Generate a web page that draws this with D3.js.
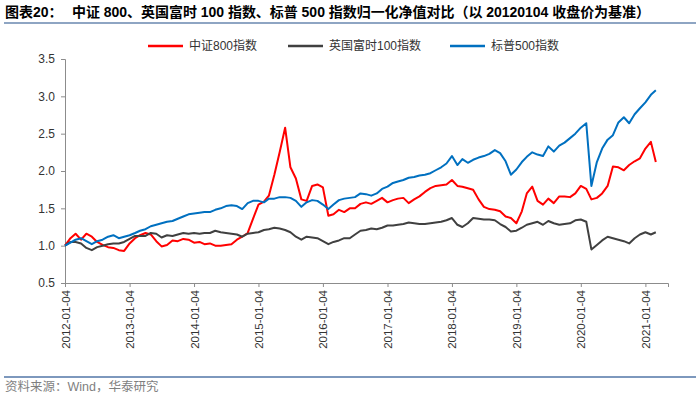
<!DOCTYPE html>
<html>
<head>
<meta charset="utf-8">
<script src="https://cdn.jsdelivr.net/npm/d3@7"></script>
<style>
  body { margin: 0; background: #fff; }
  svg text { font-family: "Liberation Sans", "Noto Sans CJK SC", sans-serif; }
</style>
</head>
<body>
<div id="chart"></div>
<script>
// monthly samples, first one is 2012-01-04 (=1.0)
var startDate = new Date(2012, 0, 4);

var csi800 = [1.00,1.10,1.16,1.08,1.16,1.12,1.05,1.01,0.98,0.97,0.94,0.93,
  1.03,1.10,1.14,1.17,1.15,1.06,0.99,1.01,1.07,1.06,1.09,1.08,
  1.04,1.05,1.02,1.03,1.00,1.00,1.01,1.02,1.08,1.12,1.17,1.36,
  1.55,1.59,1.67,1.95,2.25,2.58,2.05,1.90,1.62,1.60,1.80,1.82,
  1.78,1.40,1.42,1.48,1.45,1.50,1.50,1.56,1.58,1.56,1.60,1.64,
  1.58,1.61,1.63,1.64,1.57,1.62,1.66,1.72,1.77,1.80,1.81,1.82,
  1.88,1.80,1.79,1.77,1.75,1.62,1.52,1.49,1.48,1.46,1.39,1.37,
  1.30,1.46,1.70,1.79,1.60,1.55,1.63,1.57,1.66,1.66,1.65,1.70,
  1.80,1.76,1.62,1.64,1.70,1.80,2.06,2.05,2.01,2.08,2.13,2.17,
  2.30,2.39,2.12];

var ftse100 = [1.00,1.05,1.05,1.03,0.97,0.94,0.98,1.00,1.02,1.03,1.03,1.05,
  1.09,1.13,1.13,1.13,1.17,1.16,1.11,1.14,1.13,1.15,1.17,1.16,
  1.17,1.16,1.17,1.17,1.20,1.18,1.17,1.16,1.15,1.12,1.16,1.17,
  1.18,1.21,1.22,1.24,1.23,1.21,1.18,1.12,1.08,1.12,1.11,1.10,
  1.06,1.02,1.05,1.07,1.10,1.10,1.15,1.20,1.21,1.23,1.22,1.24,
  1.27,1.27,1.28,1.29,1.31,1.30,1.29,1.29,1.30,1.31,1.32,1.34,
  1.37,1.28,1.25,1.30,1.37,1.36,1.35,1.35,1.34,1.29,1.25,1.19,
  1.20,1.24,1.28,1.30,1.32,1.28,1.33,1.30,1.28,1.29,1.30,1.34,
  1.35,1.32,0.95,1.01,1.07,1.12,1.10,1.08,1.06,1.03,1.10,1.15,
  1.18,1.15,1.18];

var sp500 = [1.00,1.04,1.08,1.10,1.06,1.02,1.06,1.08,1.12,1.14,1.10,1.12,
  1.14,1.17,1.20,1.22,1.26,1.28,1.30,1.32,1.33,1.36,1.39,1.42,
  1.43,1.44,1.45,1.45,1.48,1.50,1.53,1.54,1.53,1.49,1.57,1.60,
  1.60,1.58,1.63,1.63,1.65,1.65,1.64,1.60,1.52,1.58,1.61,1.60,
  1.55,1.49,1.55,1.61,1.63,1.64,1.65,1.70,1.69,1.67,1.70,1.76,
  1.79,1.84,1.86,1.88,1.91,1.92,1.94,1.95,1.97,2.01,2.05,2.10,
  2.20,2.08,2.16,2.11,2.15,2.18,2.20,2.23,2.28,2.24,2.13,1.95,
  2.02,2.12,2.19,2.25,2.22,2.20,2.33,2.26,2.34,2.38,2.44,2.50,
  2.58,2.64,1.80,2.12,2.30,2.42,2.48,2.65,2.72,2.64,2.76,2.84,
  2.92,3.02,3.08];

var seriesNames = ["中证800指数", "英国富时100指数", "标普500指数"];
var seriesColors = ["#ff0000", "#404040", "#0070c0"];
var yTicks = [0.5, 1.0, 1.5, 2.0, 2.5, 3.0, 3.5];
var xTickLabels = ["2012-01-04","2013-01-04","2014-01-04","2015-01-04","2016-01-04",
  "2017-01-04","2018-01-04","2019-01-04","2020-01-04","2021-01-04"];

var titleLabel = "图表20：";
var titleText = "中证 800、英国富时 100 指数、标普 500 指数归一化净值对比（以 20120104 收盘价为基准）";
var sourceText = "资料来源：Wind，华泰研究";

var W = 700, H = 398;
var margin = {left: 65, right: 32, top: 59, bottom: 115};

var parse = d3.timeParse("%Y-%m-%d");
var fmt = d3.timeFormat("%Y-%m-%d");

var series = [csi800, ftse100, sp500].map(function(vals, k) {
  return {
    name: seriesNames[k],
    color: seriesColors[k],
    values: vals.map(function(v, i) { return {date: d3.timeMonth.offset(startDate, i), value: v}; })
  };
});

var svg = d3.select("#chart").append("svg")
  .attr("width", W)
  .attr("height", H);

// title + rule
svg.append("text")
  .attr("x", 5).attr("y", 17)
  .style("font-size", "14px").style("font-weight", "bold").style("fill", "#000")
  .text(titleLabel);
svg.append("text")
  .attr("x", 72).attr("y", 17)
  .attr("textLength", 578).attr("lengthAdjust", "spacing")
  .style("font-size", "14px").style("font-weight", "bold").style("fill", "#000")
  .text(titleText);
svg.append("line")
  .attr("x1", 4).attr("x2", 696).attr("y1", 23).attr("y2", 23)
  .style("stroke", "#8ea5c3").style("stroke-width", 2);

var x = d3.scaleTime()
  .domain([parse("2012-01-04"), parse("2021-05-12")])
  .range([margin.left, W - margin.right]);

var y = d3.scaleLinear()
  .domain([0.5, 3.5])
  .range([H - margin.bottom, margin.top]);

// y axis
var yAxis = svg.append("g")
  .attr("transform", "translate(" + margin.left + ",0)")
  .call(d3.axisLeft(y).tickValues(yTicks).tickFormat(d3.format(".1f")).tickSize(4).tickPadding(6));

// x axis
var xAxis = svg.append("g")
  .attr("transform", "translate(0," + (H - margin.bottom) + ")")
  .call(d3.axisBottom(x).tickValues(xTickLabels.map(parse)).tickFormat(fmt).tickSize(4));

xAxis.selectAll("text")
  .attr("transform", "rotate(-90)")
  .attr("x", -7).attr("y", 0).attr("dy", "0.35em")
  .style("text-anchor", "end");

[xAxis, yAxis].forEach(function(ax) {
  ax.select(".domain").style("stroke", "#8c8c8c");
  ax.selectAll(".tick line").style("stroke", "#8c8c8c");
  ax.selectAll("text").style("font-size", "12px").style("fill", "#333").style("font-family", "Liberation Sans, sans-serif");
});
xAxis.selectAll("text").style("font-size", "11.5px");

var line = d3.line()
  .x(function(d) { return x(d.date); })
  .y(function(d) { return y(d.value); });

svg.selectAll(".series")
  .data(series)
  .enter().append("path")
  .attr("class", "series")
  .attr("d", function(d) { return line(d.values); })
  .style("fill", "none")
  .style("stroke", function(d) { return d.color; })
  .style("stroke-width", 2)
  .style("stroke-linejoin", "round");

// legend
var legendX = [148, 288, 450];
var legend = svg.selectAll(".legend")
  .data(series)
  .enter().append("g")
  .attr("class", "legend")
  .attr("transform", function(d, i) { return "translate(" + legendX[i] + ",46)"; });
legend.append("line")
  .attr("x1", 0).attr("x2", 35)
  .style("stroke", function(d) { return d.color; })
  .style("stroke-width", 2.5);
legend.append("text")
  .attr("x", 41).attr("dy", "0.35em")
  .style("font-size", "12px").style("fill", "#333")
  .text(function(d) { return d.name; });

// footer
svg.append("line")
  .attr("x1", 4).attr("x2", 696).attr("y1", 377).attr("y2", 377)
  .style("stroke", "#7d98bd").style("stroke-width", 2);
svg.append("text")
  .attr("x", 5).attr("y", 391)
  .style("font-size", "12.5px").style("fill", "#7f7f7f")
  .text(sourceText);
</script>
</body>
</html>
